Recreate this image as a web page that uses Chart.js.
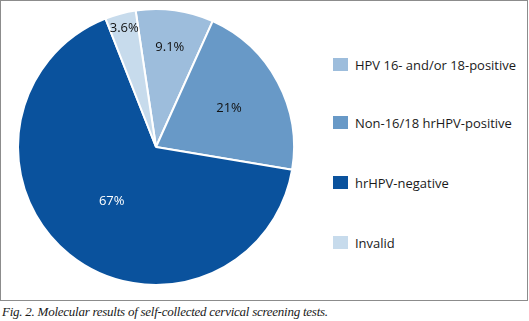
<!DOCTYPE html>
<html>
<head>
<meta charset="utf-8">
<script src="https://cdn.jsdelivr.net/npm/chart.js@4"></script>
<style>
  html, body { margin: 0; padding: 0; background: #fff; }
  body { width: 529px; height: 321px; position: relative; overflow: hidden; }
  #frame { position: absolute; left: 0; top: 0; width: 526px; height: 299px; border: 1px solid #8c8c8c; }
  #pieWrap { position: absolute; left: 0; top: 0; width: 312px; height: 294px; }
  #legend { position: absolute; left: 333px; top: 0; width: 196px; font-family: "Open Sans", sans-serif; color: #1a1a1a; }
  .item { position: absolute; left: 0; white-space: nowrap; line-height: 18px; }
  .box { display: inline-block; width: 15px; height: 13px; margin-right: 7px; vertical-align: -1px; }
  #caption { position: absolute; left: 2px; top: 304px; font-family: "Liberation Serif", serif; font-style: italic; font-size: 13px; letter-spacing: -0.25px; color: #1a1a1a; white-space: nowrap; }
</style>
</head>
<body>
<div id="frame"></div>
<div id="pieWrap"><canvas id="pie" width="312" height="294"></canvas></div>
<div id="legend"></div>
<div id="caption">Fig. 2. Molecular results of self-collected cervical screening tests.</div>
<script>
// Data (percent of tests)
const categories = ['HPV 16- and/or 18-positive', 'Non-16/18 hrHPV-positive', 'hrHPV-negative', 'Invalid'];
const shares = [9.1, 20.9, 66.4, 3.6];
const shareLabels = ['9.1%', '21%', '67%', '3.6%'];

const colors = ['#9dbddc', '#6899c7', '#0a529d', '#c7dbec'];
const labelColors = ['#111', '#111', '#fff', '#111'];
const labelRadius = [0.73, 0.6, 0.51, 0.89]; // fraction of outer radius
const legendTops = [56, 114, 174, 234];

// Simple label plugin, draws the percentage on each slice
const sliceLabels = {
  id: 'sliceLabels',
  afterDatasetsDraw(chart) {
    const ctx = chart.ctx;
    const meta = chart.getDatasetMeta(0);
    ctx.save();
    ctx.font = '13px "Open Sans", sans-serif';
    ctx.textAlign = 'center';
    ctx.textBaseline = 'middle';
    meta.data.forEach((arc, i) => {
      const p = arc.getProps(['x', 'y', 'startAngle', 'endAngle', 'outerRadius'], true);
      const mid = (p.startAngle + p.endAngle) / 2;
      const r = p.outerRadius * labelRadius[i];
      ctx.fillStyle = labelColors[i];
      ctx.fillText(shareLabels[i], p.x + Math.cos(mid) * r, p.y + Math.sin(mid) * r);
    });
    ctx.restore();
  }
};

const chart = new Chart(document.getElementById('pie'), {
  type: 'pie',
  data: {
    labels: categories,
    datasets: [{
      data: shares,
      backgroundColor: colors,
      borderColor: '#fff',
      borderWidth: 2
    }]
  },
  options: {
    responsive: false,
    animation: false,
    rotation: -8.5,
    radius: 138,
    layout: { padding: 0 },
    plugins: {
      legend: { display: false },
      tooltip: { enabled: false }
    }
  },
  plugins: [sliceLabels]
});

// Legend on the right: size the font so the longest label is ~161px wide, like the figure
const mctx = chart.ctx;
mctx.save();
mctx.font = '15px "Open Sans", sans-serif';
const w15 = mctx.measureText(categories[0]).width;
mctx.restore();
const legendSize = Math.min(16, 15 * 161 / w15);

const legend = document.getElementById('legend');
legend.style.fontSize = legendSize.toFixed(2) + 'px';
categories.forEach((name, i) => {
  const item = document.createElement('div');
  item.className = 'item';
  item.style.top = legendTops[i] + 'px';
  item.innerHTML = '<span class="box" style="background:' + colors[i] + '"></span>' + name;
  legend.appendChild(item);
});
</script>
</body>
</html>
